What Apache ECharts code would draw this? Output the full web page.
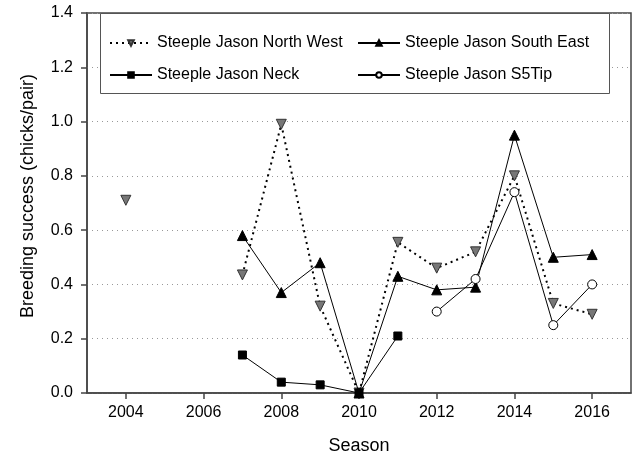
<!DOCTYPE html>
<html>
<head>
<meta charset="utf-8">
<script src="https://cdn.jsdelivr.net/npm/echarts@6/dist/echarts.min.js"></script>
<style>html,body{margin:0;padding:0;background:#fff}#c{width:633px;height:461px}</style>
</head>
<body>
<div id="c"></div>
<script>
const years = [2004, 2005, 2006, 2007, 2008, 2009, 2010, 2011, 2012, 2013, 2014, 2015, 2016];
const northWest = [0.71, null, null, 0.435, 0.99, 0.32, 0.0, 0.555, 0.46, 0.52, 0.80, 0.33, 0.29];
const southEast = [null, null, null, 0.58, 0.37, 0.48, 0.0, 0.43, 0.38, 0.39, 0.95, 0.50, 0.51];
const neck = [null, null, null, 0.14, 0.04, 0.03, 0.0, 0.21, null, null, null, null, null];
const s5Tip = [null, null, null, null, null, null, null, null, 0.30, 0.42, 0.74, 0.25, 0.40];
const xTicks = [2004, 2006, 2008, 2010, 2012, 2014, 2016];
const names = ['Steeple Jason North West', 'Steeple Jason South East', 'Steeple Jason Neck', 'Steeple Jason S5Tip'];

const pairs = arr => years.map((y, i) => [y, arr[i]]);
const FONT = 'Liberation Sans, Arial, sans-serif';

const chart = echarts.init(document.getElementById('c'), null, {renderer: 'canvas'});
const legendBase = {
  orient: 'vertical', top: 30, itemWidth: 42, itemHeight: 7, itemGap: 16, z: 5,
  textStyle: {fontSize: 16, color: '#000', fontFamily: FONT}
};
chart.setOption({
  animation: false,
  backgroundColor: '#fff',
  textStyle: {fontFamily: FONT},
  grid: {left: 87, right: 2, top: 13, bottom: 68, show: true, borderColor: '#444', borderWidth: 1.5, backgroundColor: 'transparent'},
  graphic: [{
    type: 'rect', z: 3, left: 100, top: 13,
    shape: {width: 509, height: 80},
    style: {fill: '#fff', stroke: '#555', lineWidth: 1}
  }],
  legend: [
    Object.assign({data: [names[0], names[2]], left: 104}, legendBase),
    Object.assign({data: [names[1], names[3]], left: 352}, legendBase)
  ],
  xAxis: {
    type: 'value', min: 2003, max: 2017,
    name: 'Season', nameLocation: 'middle', nameGap: 44,
    nameTextStyle: {fontSize: 18, color: '#000', fontFamily: FONT},
    axisLine: {show: true, lineStyle: {color: '#444', width: 1.5}},
    axisTick: {show: true, length: 6, inside: false, customValues: xTicks, lineStyle: {color: '#444', width: 1.5}},
    axisLabel: {customValues: xTicks, fontSize: 16, color: '#000', margin: 12, fontFamily: FONT, formatter: v => String(v)},
    splitLine: {show: false}
  },
  yAxis: {
    type: 'value', min: 0, max: 1.4, interval: 0.2,
    name: 'Breeding success (chicks/pair)', nameLocation: 'middle', nameGap: 50,
    nameTextStyle: {fontSize: 18, color: '#000', fontFamily: FONT, padding: [0, 0, 0, 14]},
    axisLine: {show: true, lineStyle: {color: '#444', width: 1.5}},
    axisTick: {show: true, length: 6, lineStyle: {color: '#444', width: 1.5}},
    axisLabel: {fontSize: 16, color: '#000', margin: 14, fontFamily: FONT, formatter: v => v.toFixed(1)},
    splitLine: {show: true, lineStyle: {color: '#999', type: [1, 4], width: 1}}
  },
  series: [{
    name: names[0], type: 'line', data: pairs(northWest), z: 3,
    symbol: 'triangle', symbolRotate: 180, symbolSize: 10,
    lineStyle: {color: '#000', width: 2, type: [2, 4]},
    itemStyle: {color: '#777', borderColor: '#333', borderWidth: 1}
  }, {
    name: names[1], type: 'line', data: pairs(southEast), z: 4,
    symbol: 'triangle', symbolSize: 10,
    lineStyle: {color: '#000', width: 1},
    itemStyle: {color: '#000', borderColor: '#000', borderWidth: 1}
  }, {
    name: names[2], type: 'line', data: pairs(neck), z: 6,
    symbol: 'rect', symbolSize: 8,
    lineStyle: {color: '#000', width: 1},
    itemStyle: {color: '#000', borderColor: '#000', borderWidth: 1}
  }, {
    name: names[3], type: 'line', data: pairs(s5Tip), z: 5,
    symbol: 'circle', symbolSize: 9,
    lineStyle: {color: '#000', width: 1},
    itemStyle: {color: '#fff', borderColor: '#000', borderWidth: 1}
  }]
});
</script>
</body>
</html>
